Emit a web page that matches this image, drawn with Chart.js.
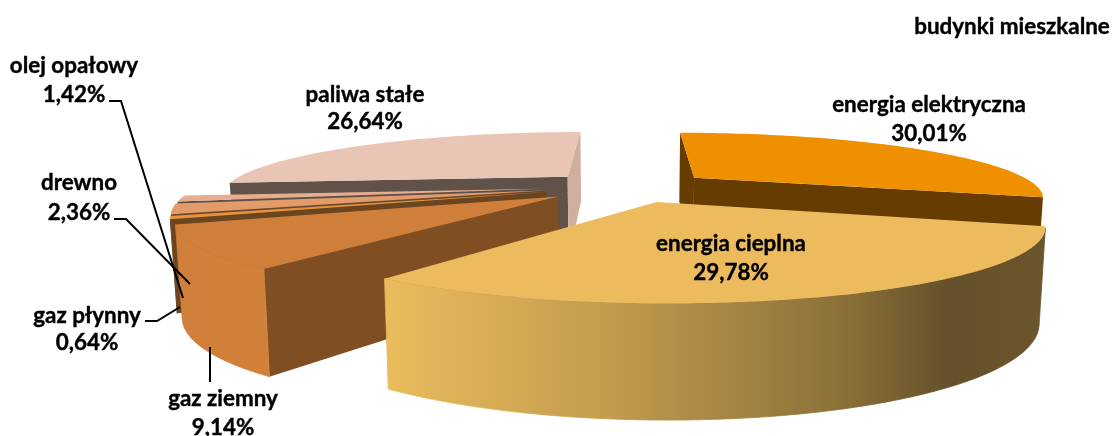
<!DOCTYPE html>
<html lang="pl">
<head>
<meta charset="utf-8">
<title>budynki mieszkalne</title>
<script src="https://cdn.jsdelivr.net/npm/chart.js@4"></script>
<style>
  html, body { margin: 0; background: #fff; }
  canvas { display: block; }
</style>
</head>
<body>
<canvas id="pieChart" width="1112" height="436"></canvas>
<script>
const title = "budynki mieszkalne";
const categories = ["energia elektryczna", "energia cieplna", "gaz ziemny", "gaz płynny", "drewno", "olej opałowy", "paliwa stałe"];
const shares = [30.01, 29.78, 9.14, 0.64, 2.36, 1.42, 26.64];

const topColors = ["#ee9000", "#ecbb5e", "#cf7f39", "#e8923a", "#e39b6a", "#e5ae90", "#e8c5b5"];
const sideColors = ["#663c00", "#65502a", "#7f4e23", "#6b4420", "#6e4a2c", "#5f5049", "#615249"];
const wallColors = ["#663c00", "#65502a", "#6b4420", "#6b4420", "#6e4a2c", "#8a5a36", "#cfb09f"];

// back slices first, front slices last
const drawOrder = [6, 0, 5, 4, 3, 2, 1];

// perspective of the pie plane
const view = { vx: 628, vy: -35, depth: 1230, plane: 221.5, radius: 344, explode: 85, height: 85, taper: 0.985 };

function project(x, y, low) {
  const p = view.depth / (view.depth + y);
  let sx = view.vx + x * p;
  let sy = view.vy + view.plane * p;
  if (low) {
    sx = view.vx + (sx - view.vx) * view.taper;
    sy += view.height * Math.pow(p, 0.75);
  }
  return [sx, sy];
}

function fillPoly(ctx, pts, color, seam) {
  ctx.beginPath();
  pts.forEach((q, i) => i ? ctx.lineTo(q[0], q[1]) : ctx.moveTo(q[0], q[1]));
  ctx.closePath();
  ctx.fillStyle = color;
  ctx.fill();
  if (seam) {
    ctx.strokeStyle = color;
    ctx.lineWidth = seam;
    ctx.stroke();
  }
}

// negative area means the face looks toward the viewer
function faces(a, b, c, d) {
  const pts = [a, b, c, d];
  let s = 0;
  pts.forEach((q, i) => {
    const n = pts[(i + 1) % 4];
    s += q[0] * n[1] - n[0] * q[1];
  });
  return s < 0;
}

function drawSlice(ctx, arc, i) {
  const start = arc.startAngle + Math.PI / 2;
  const end = arc.endAngle + Math.PI / 2;
  const mid = (start + end) / 2;
  const ax = view.explode * Math.sin(mid);
  const ay = view.explode * Math.cos(mid);

  const steps = Math.max(4, Math.ceil((end - start) * 40));
  const rim = [];
  for (let s = 0; s <= steps; s++) {
    const t = start + (end - start) * s / steps;
    rim.push([ax + view.radius * Math.sin(t), ay + view.radius * Math.cos(t)]);
  }

  const wall = (p, q, color) => {
    const a = project(p[0], p[1]), b = project(q[0], q[1]);
    const c = project(q[0], q[1], true), d = project(p[0], p[1], true);
    if (faces(a, b, c, d)) fillPoly(ctx, [a, b, c, d], color);
  };

  // flat cut faces
  wall([ax, ay], rim[0], sideColors[i]);
  wall(rim[steps], [ax, ay], wallColors[i]);

  // curved outer face, shaded left to right
  let shade = sideColors[i];
  if (i === 1) {
    shade = ctx.createLinearGradient(390, 0, 1040, 0);
    shade.addColorStop(0, "#e9bb5c");
    shade.addColorStop(0.35, "#c09a4c");
    shade.addColorStop(0.7, "#8a7038");
    shade.addColorStop(0.86, "#65502a");
    shade.addColorStop(1, "#6b552c");
  } else if (i === 2) {
    shade = ctx.createLinearGradient(180, 0, 275, 0);
    shade.addColorStop(0, "#cf7f39");
    shade.addColorStop(1, "#d2813a");
  }
  const upper = [], lower = [];
  for (let s = 0; s < steps; s++) {
    const p = rim[s], q = rim[s + 1];
    const a = project(p[0], p[1]), b = project(q[0], q[1]);
    const c = project(q[0], q[1], true), d = project(p[0], p[1], true);
    if (faces(a, b, c, d)) {
      if (!upper.length) { upper.push(a); lower.push(d); }
      upper.push(b);
      lower.push(c);
    }
  }
  if (upper.length) fillPoly(ctx, [...upper, ...lower.reverse()], shade, 0.8);

  // top surface
  fillPoly(ctx, [[ax, ay], ...rim].map(q => project(q[0], q[1])), topColors[i]);
}

const labelSpots = [
  { x: 929, y: 105, gap: 29 },
  { x: 731, y: 244, gap: 29 },
  { x: 223, y: 399, gap: 29 },
  { x: 87, y: 316, gap: 27 },
  { x: 79, y: 183, gap: 30 },
  { x: 74, y: 66, gap: 29 },
  { x: 365, y: 95, gap: 27 }
];

const leaders = [
  [[109, 101], [121, 101], [183, 298]],
  [[114, 219], [126, 219], [190, 284]],
  [[145, 321], [157, 321], [180, 307]],
  [[210, 347], [210, 382]]
];

const pie3d = {
  id: "pie3d",
  beforeDatasetDraw(chart) {
    const ctx = chart.ctx;
    const arcs = chart.getDatasetMeta(0).data;
    ctx.save();
    drawOrder.forEach(i => drawSlice(ctx, arcs[i], i));
    ctx.restore();
    return false; // flat arcs are replaced by the solid ones
  },
  afterDraw(chart) {
    const ctx = chart.ctx;
    ctx.save();
    ctx.strokeStyle = "#000";
    ctx.lineWidth = 2;
    leaders.forEach(line => {
      ctx.beginPath();
      line.forEach((q, i) => i ? ctx.lineTo(q[0], q[1]) : ctx.moveTo(q[0], q[1]));
      ctx.stroke();
    });
    ctx.fillStyle = "#000";
    ctx.lineWidth = 0.4;
    ctx.font = "bold 22.4px Lato";
    ctx.textAlign = "center";
    ctx.textBaseline = "middle";
    const put = (text, x, y) => {
      ctx.fillText(text, x, y);
      ctx.strokeText(text, x, y);
    };
    categories.forEach((name, i) => {
      const spot = labelSpots[i];
      put(name, spot.x, spot.y);
      put(shares[i].toFixed(2).replace(".", ",") + "%", spot.x, spot.y + spot.gap);
    });
    put(title, 1012, 27);
    ctx.restore();
  }
};

new Chart(document.getElementById("pieChart"), {
  type: "pie",
  data: {
    labels: categories,
    datasets: [{ data: shares, backgroundColor: topColors, borderWidth: 0 }]
  },
  options: {
    responsive: false,
    animation: false,
    plugins: { legend: { display: false }, tooltip: { enabled: false } }
  },
  plugins: [pie3d]
});
</script>
</body>
</html>
